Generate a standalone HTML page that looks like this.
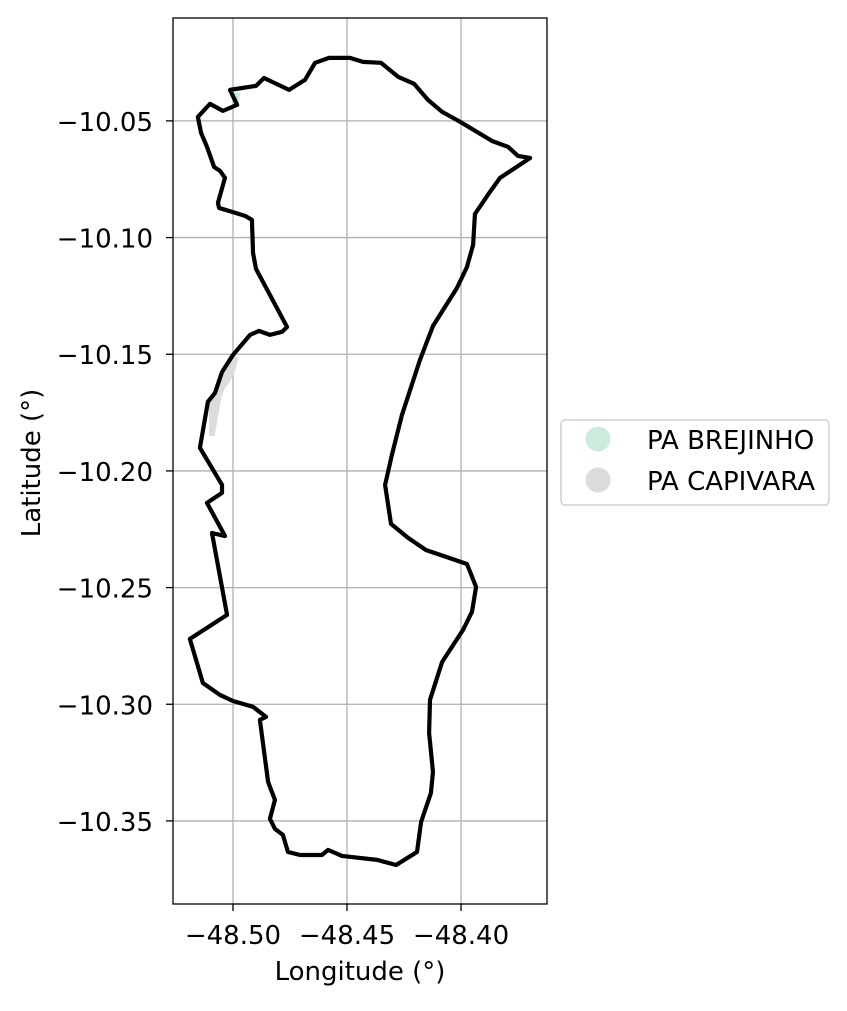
<!DOCTYPE html>
<html><head><meta charset="utf-8"><style>
body{margin:0;background:#fff;}
svg text{font-family:"DejaVu Sans","Liberation Sans",sans-serif;fill:#000;}
</style></head><body>
<svg id="chart" width="847" height="1006" xmlns="http://www.w3.org/2000/svg"></svg>
<script>
const lonTicks=[-48.50,-48.45,-48.40];
const lonTickLabels=["\u221248.50","\u221248.45","\u221248.40"];
const latTicks=[-10.05,-10.10,-10.15,-10.20,-10.25,-10.30,-10.35];
const latTickLabels=["\u221210.05","\u221210.10","\u221210.15","\u221210.20","\u221210.25","\u221210.30","\u221210.35"];
const boundaryLon=[-48.5013,-48.4899,-48.4864,-48.4754,-48.4684,-48.4640,-48.4579,-48.4487,-48.4430,-48.4351,-48.4276,-48.4206,-48.4145,-48.4083,-48.4004,-48.3864,-48.3794,-48.3750,-48.3697,-48.3829,-48.3873,-48.3939,-48.3947,-48.3974,-48.4018,-48.4123,-48.4180,-48.4259,-48.4303,-48.4333,-48.4307,-48.4232,-48.4154,-48.3974,-48.3934,-48.3952,-48.3991,-48.4083,-48.4136,-48.4140,-48.4123,-48.4132,-48.4175,-48.4193,-48.4285,-48.4368,-48.4522,-48.4583,-48.4610,-48.4706,-48.4759,-48.4781,-48.4816,-48.4838,-48.4816,-48.4846,-48.4882,-48.4855,-48.4912,-48.5000,-48.5057,-48.5132,-48.5189,-48.5026,-48.5092,-48.5035,-48.5114,-48.5048,-48.5048,-48.5145,-48.5110,-48.5079,-48.5048,-48.5000,-48.4925,-48.4886,-48.4838,-48.4785,-48.4763,-48.4899,-48.4912,-48.4917,-48.4947,-48.5004,-48.5061,-48.5066,-48.5035,-48.5057,-48.5083,-48.5114,-48.5140,-48.5154,-48.5101,-48.5044,-48.4982];
const boundaryLat=[-10.0367,-10.0350,-10.0316,-10.0367,-10.0324,-10.0251,-10.0230,-10.0230,-10.0247,-10.0251,-10.0311,-10.0341,-10.0410,-10.0461,-10.0504,-10.0586,-10.0611,-10.0650,-10.0659,-10.0744,-10.0804,-10.0899,-10.1031,-10.1126,-10.1216,-10.1379,-10.1524,-10.1760,-10.1931,-10.2060,-10.2227,-10.2287,-10.2339,-10.2399,-10.2497,-10.2604,-10.2681,-10.2819,-10.2981,-10.3123,-10.3290,-10.3380,-10.3504,-10.3633,-10.3689,-10.3667,-10.3650,-10.3624,-10.3646,-10.3646,-10.3633,-10.3560,-10.3534,-10.3491,-10.3410,-10.3333,-10.3067,-10.3054,-10.3011,-10.2986,-10.2960,-10.2909,-10.2720,-10.2617,-10.2266,-10.2279,-10.2137,-10.2094,-10.2060,-10.1901,-10.1704,-10.1666,-10.1576,-10.1503,-10.1417,-10.1400,-10.1417,-10.1404,-10.1383,-10.1134,-10.1066,-10.0924,-10.0907,-10.0890,-10.0873,-10.0851,-10.0744,-10.0714,-10.0697,-10.0611,-10.0551,-10.0483,-10.0427,-10.0457,-10.0431];
const capivaraLon=[-48.5000,-48.4975,-48.4990,-48.5015,-48.5035,-48.5050,-48.5060,-48.5070,-48.5080,-48.5105,-48.5105,-48.5079,-48.5048,-48.5020];
const capivaraLat=[-10.1494,-10.1515,-10.1570,-10.1620,-10.1645,-10.1680,-10.1740,-10.1790,-10.1850,-10.1850,-10.1704,-10.1666,-10.1576,-10.1520];
const brejinhoLon=[-48.5008,-48.4968,-48.4975,-48.5000];
const brejinhoLat=[-10.0375,-10.0380,-10.0425,-10.0425];

const L=173,R=547,T=18,B=904;
const xMin=-48.5263,xMax=-48.3623,yMin=-10.3856,yMax=-10.0059;
const X=v=>L+(v-xMin)/(xMax-xMin)*(R-L);
const Y=v=>B-(v-yMin)/(yMax-yMin)*(B-T);
const svg=document.getElementById('chart');
const NS="http://www.w3.org/2000/svg";
function mk(tag,attrs,parent){const e=document.createElementNS(NS,tag);for(const k in attrs)e.setAttribute(k,attrs[k]);(parent||svg).appendChild(e);return e;}
const FS=26;

lonTicks.forEach((v,i)=>{
  const g=mk('line',{x1:X(v),x2:X(v),y1:T,y2:B,stroke:'#b0b0b0','stroke-width':1.3});
  
  
  mk('line',{x1:X(v),x2:X(v),y1:B,y2:B+7,stroke:'#000','stroke-width':1.3});
  const t=mk('text',{x:X(v),y:944,'text-anchor':'middle','font-size':FS});
  t.textContent=lonTickLabels[i];
  
  
});
latTicks.forEach((v,i)=>{
  const g=mk('line',{x1:L,x2:R,y1:Y(v),y2:Y(v),stroke:'#b0b0b0','stroke-width':1.3});
  
  
  mk('line',{x1:L-7,x2:L,y1:Y(v),y2:Y(v),stroke:'#000','stroke-width':1.3});
  const t=mk('text',{x:153,y:Y(v)+10,'text-anchor':'end','font-size':FS});
  t.textContent=latTickLabels[i];
  
  
});

const cap=mk('polygon',{points:capivaraLon.map((v,i)=>X(v)+','+Y(capivaraLat[i])).join(' '),fill:'#dcdcdc'});


const bre=mk('polygon',{points:brejinhoLon.map((v,i)=>X(v)+','+Y(brejinhoLat[i])).join(' '),fill:'#cdebdc'});



const poly=mk('polygon',{points:boundaryLon.map((v,i)=>X(v)+','+Y(boundaryLat[i])).join(' '),fill:'none',stroke:'#000','stroke-width':4.2,'stroke-linejoin':'round'});



const frame=mk('rect',{x:L,y:T,width:R-L,height:B-T,fill:'none',stroke:'#000','stroke-width':1.3});



const xl=mk('text',{x:360,y:980,'text-anchor':'middle','font-size':FS});
xl.textContent='Longitude (°)';


const yl=mk('text',{x:40,y:463,'text-anchor':'middle','font-size':FS,transform:'rotate(-90 40 463)'});
yl.textContent='Latitude (°)';



const lg=mk('g',{});


mk('rect',{x:561,y:420,width:268,height:85,rx:4,fill:'#fff',stroke:'#d0d0d0','stroke-width':1.5},lg);
const names=['PA BREJINHO','PA CAPIVARA'],cols=['#cdebdc','#dcdcdc'];
names.forEach((n,i)=>{
  const e=mk('g',{},lg);
  
  
  mk('circle',{cx:598,cy:439+i*41,r:12.5,fill:cols[i]},e);
  const t=mk('text',{x:647,y:449+i*41,'font-size':FS},e);
  t.textContent=n;
});
</script>
</body></html>
